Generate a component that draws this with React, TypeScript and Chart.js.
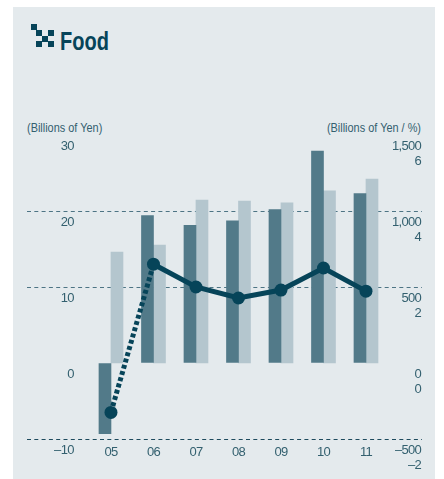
import React, { useEffect, useRef } from "react";
import { Chart, registerables } from "chart.js";

Chart.register(...registerables);

const categories = ["05", "06", "07", "08", "09", "10", "11"];
const categoryIndex = [0, 1, 2, 3, 4, 5, 6];
const operatingIncome = [-9.3, 19.4, 18.1, 18.7, 20.2, 27.9, 22.3];
const sales = [730, 776, 1072, 1066, 1053, 1132, 1210];
const margin = [-1.3, 2.6, 2.0, 1.71, 1.92, 2.5, 1.89];

const INK = "#064459";
const TEXT = "#33606f";
const DARK = "#527a89";
const LIGHT = "#b4c6ce";
const BG = "#e4eaed";
const FONT = '"Liberation Sans", sans-serif';

const fmt = (v: number) => {
  const s = Math.abs(v).toLocaleString("en-US");
  return v < 0 ? "\u2013" + s : s;
};

const iconSquares = [
  [0, 0], [5, 6], [17, 6], [11, 12], [5, 17], [17, 17],
];

const narrowText = {
  id: "narrowText",
  beforeDraw(chart: any) {
    chart.ctx.letterSpacing = "-0.7px";
  },
};

const zeroWidth = (s: any) => { s.width = 0; };

export default function App() {
  const ref = useRef<HTMLCanvasElement>(null);
  useEffect(() => {
    const font = { family: FONT, size: 13 };
    const chart = new Chart(ref.current!, {
      data: {
        datasets: [
          {
            type: "line",
            data: categoryIndex.map((x, i) => ({ x, y: margin[i] })),
            yAxisID: "y2",
            borderColor: INK,
            backgroundColor: INK,
            borderWidth: 5,
            pointRadius: 6.5,
            pointHoverRadius: 6.5,
            pointBorderWidth: 0,
            tension: 0,
            order: 0,
            segment: {
              borderDash: (c: any) => (c.p0DataIndex === 0 ? [4, 2.5] : undefined),
            },
          },
          {
            type: "bar",
            data: categoryIndex.map((x, i) => ({ x, y: operatingIncome[i] })),
            yAxisID: "y",
            backgroundColor: DARK,
            barThickness: 12,
            order: 1,
          },
          {
            type: "bar",
            data: categoryIndex.map((x, i) => ({ x, y: sales[i] })),
            yAxisID: "y1",
            backgroundColor: LIGHT,
            barThickness: 12,
            order: 1,
          },
        ],
      } as any,
      options: {
        responsive: false,
        animation: false,
        layout: { padding: { left: 27, right: 22, top: 135, bottom: 0 } },
        plugins: { legend: { display: false }, title: { display: false }, tooltip: { enabled: false } },
        scales: {
          x: {
            type: "linear",
            offset: false,
            min: -1.976,
            max: 7.318,
            grid: { display: false, drawTicks: false },
            border: { display: false },
            afterFit: (s: any) => { s.height = 40; },
            ticks: {
              stepSize: 1,
              includeBounds: false,
              autoSkip: false,
              maxRotation: 0,
              padding: 6,
              color: TEXT,
              font,
              callback: (v: any) => categories[v] ?? "",
            },
          },
          y: {
            position: "left",
            min: -10,
            max: 30,
            afterFit: zeroWidth,
            grid: {
              drawTicks: false,
              lineWidth: 1,
              color: (c: any) =>
                c.tick.value === 30 || c.tick.value === 0 ? "rgba(0,0,0,0)" : c.tick.value === -10 ? "#1d4a5d" : "#4d7484",
            },
            border: { display: false, dash: [4, 3.3] },
            ticks: {
              stepSize: 10,
              mirror: true,
              crossAlign: "far",
              padding: 25,
              labelOffset: 11,
              color: TEXT,
              font,
              callback: (v: any) => fmt(v),
            },
          },
          y1: {
            position: "right",
            min: -500,
            max: 1500,
            afterFit: zeroWidth,
            grid: { display: false, drawTicks: false },
            border: { display: false },
            ticks: {
              stepSize: 500,
              mirror: true,
              padding: -1,
              labelOffset: 11,
              color: TEXT,
              font,
              callback: (v: any) => fmt(v),
            },
          },
          y2: {
            position: "right",
            min: -2,
            max: 6,
            afterFit: zeroWidth,
            grid: { display: false, drawTicks: false },
            border: { display: false },
            ticks: {
              stepSize: 2,
              mirror: true,
              padding: -1,
              labelOffset: 26,
              color: TEXT,
              font,
              callback: (v: any) => fmt(v),
            },
          },
        },
      } as any,
      plugins: [narrowText],
    });
    return () => chart.destroy();
  }, []);

  return (
    <div style={{ position: "fixed", left: 0, top: 0, width: 444, height: 479, background: "#fff", overflow: "hidden" }}>
      <div style={{ position: "absolute", left: 13, top: 7, width: 422, height: 472, background: BG }} />
      <div style={{ position: "absolute", left: 31, top: 24 }}>
        {iconSquares.map(([x, y], i) => (
          <div key={i} style={{ position: "absolute", left: x, top: y, width: 6, height: 6, background: INK }} />
        ))}
      </div>
      <div style={{ position: "absolute", left: 60, top: 27, fontFamily: FONT, fontWeight: 700, fontSize: 25, lineHeight: "28px", color: INK, transform: "scaleX(0.8)", transformOrigin: "left center" }}>
        Food
      </div>
      <div style={{ position: "absolute", left: 27, top: 120, fontFamily: FONT, fontSize: 13, lineHeight: "15px", color: TEXT, whiteSpace: "nowrap", transform: "scaleX(0.84)", transformOrigin: "left center" }}>
        (Billions of Yen)
      </div>
      <div style={{ position: "absolute", right: 23, top: 120, fontFamily: FONT, fontSize: 13, lineHeight: "15px", color: TEXT, whiteSpace: "nowrap", transform: "scaleX(0.84)", transformOrigin: "right center" }}>
        (Billions of Yen / %)
      </div>
      <canvas ref={ref} width={444} height={479} style={{ position: "absolute", left: 0, top: 0, display: "block" }} />
    </div>
  );
}
